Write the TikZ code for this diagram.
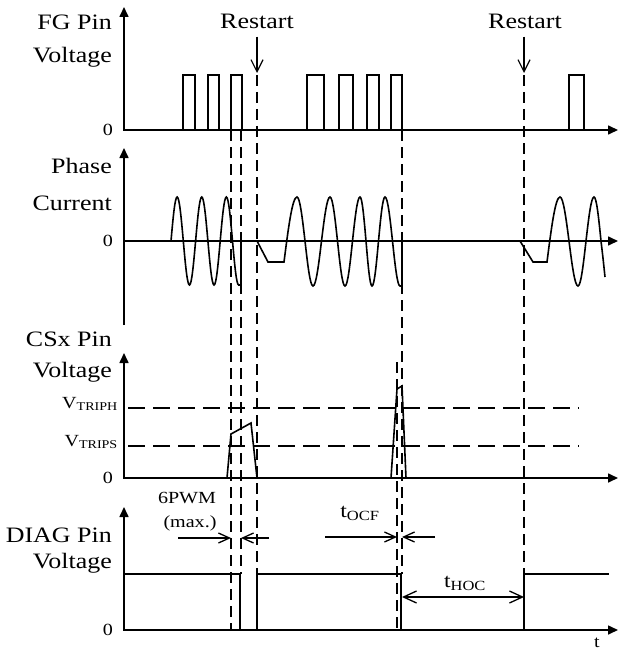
\documentclass[tikz,border=0pt]{standalone}
\usepackage{fontspec}
\setmainfont{Liberation Serif}[FakeStretch=1.18]
\usetikzlibrary{arrows.meta}

\begin{document}
\begin{tikzpicture}[
    x=1pt, y=-1pt,
    axisline/.style={line width=1.6pt, {Triangle[width=9pt,length=10pt]}-{Triangle[width=9pt,length=10pt]}},
    axisend/.style={line width=1.6pt, -{Triangle[width=9pt,length=10pt]}},
    signal/.style={line width=1.6pt},
    guide/.style={line width=1.5pt, dash pattern=on 11pt off 6pt},
    tripline/.style={line width=1.4pt, dash pattern=on 17pt off 8pt},
    marker/.style={line width=1.2pt, -{Straight Barb[width=12pt,length=12pt]}},
    measure/.style={line width=1.3pt, -{Straight Barb[width=10pt,length=11pt]}},
    sigtitle/.style={font=\fontsize{22}{24}\selectfont, anchor=base east, inner sep=0pt},
    lbl/.style={font=\fontsize{17}{19}\selectfont, inner sep=0pt},
    timing/.style={font=\fontsize{20}{22}\selectfont, inner sep=0pt}
]
\useasboundingbox (0,0) rectangle (621,650);

% Signal names
\node[sigtitle] (fg1) at (112,30) {FG Pin};
\node[sigtitle] (fg2) at (112,63) {Voltage};
\node[sigtitle] (ph1) at (112,173) {Phase};
\node[sigtitle] (ph2) at (112,210) {Current};
\node[sigtitle] (cs1) at (112,346) {CSx Pin};
\node[sigtitle] (cs2) at (112,377) {Voltage};
\node[sigtitle] (dg1) at (112,542) {DIAG Pin};
\node[sigtitle] (dg2) at (112,568) {Voltage};

% Zero levels and thresholds
\node[lbl, anchor=east] (z1) at (113,130) {0};
\node[lbl, anchor=east] (z2) at (113,241) {0};
\node[lbl, anchor=east] (z3) at (113,478) {0};
\node[lbl, anchor=east] (z4) at (113,630) {0};
\node[lbl, anchor=base east] (vtriph) at (118,408) {V\textsubscript{TRIPH}};
\node[lbl, anchor=base east] (vtrips) at (118,446) {V\textsubscript{TRIPS}};

% Axes
\draw[axisline] (124,7) -- (124,130) -- (618,130);
\draw[axisend] (124,325) -- (124,148);
\draw[axisend] (124,241) -- (618,241);
\draw[axisline] (124,353) -- (124,478) -- (618,478);
\draw[axisline] (124,507) -- (124,630) -- (618,630);

% FG pulses
\foreach \a/\b in {183/195, 208/219, 231/242, 307/324, 339/353, 367/379, 391/402, 569/584}
    \draw[signal] (\a,130) |- (\b,75) -- (\b,130);

% Phase current
\draw[signal] (171,241) \foreach \k in {1,2} {sin ++(6.15,-44) cos ++(6.15,44) sin ++(6.15,44) cos ++(6.15,-44)}
    sin ++(6.15,-44) cos ++(6.15,44) sin ++(6.15,44) -- (241,285) -- (241,241);
\draw[signal] (257,241) -- (268,262) -- (284,262) sin (297,197) cos (305,241) sin (313,286)
    cos (321.5,241) sin (330,197) cos (337.5,241) sin (345,286) cos (352.5,241) sin (360,197)
    cos (366,241) sin (372,286) cos (378.5,241) sin (385,197) cos (392.5,241) sin (400,286)
    -- (402,286) -- (402,241);
\draw[signal] (520,241) -- (533,262) -- (547,262) sin (560,197) cos (569,241) sin (578,286)
    cos (586,241) sin (594,197) cos (601,241) .. controls (603,258) .. (605,277);

% CSx spikes
\draw[signal] (227,478) -- (231,434) -- (251,423) -- (257,478);
\draw[signal] (391,478) -- (397,389) -- (402,386) -- (406,478);
\draw[tripline] (128,408) -- (579,408);
\draw[tripline] (128,446) -- (579,446);

% DIAG
\draw[signal] (124,574) -- (240,574) -- (240,630) -- (257,630) -- (257,574) -- (401,574)
    -- (401,630) -- (524,630) -- (524,574) -- (609,574);

% Restart markers
\node[font=\fontsize{22}{24}\selectfont, inner sep=0pt] (rs1) at (257,21) {Restart};
\node[font=\fontsize{22}{24}\selectfont, inner sep=0pt] (rs2) at (525,21) {Restart};
\coordinate (rs1tip) at (257,73);
\coordinate (rs2tip) at (524,73);
\draw[marker] ([yshift=-8pt]rs1.south) -- (rs1tip);
\draw[marker] ([xshift=-1pt,yshift=-8pt]rs2.south) -- (rs2tip);

% Guide lines
\foreach \x/\ya/\yb in {231/130/630, 241/130/574, 257/75/574, 397/362/630, 402/130/574, 524/75/574}
    \draw[guide] (\x,\ya) -- (\x,\yb);

% Time intervals
\node[lbl] (pwm) at (187,498) {6PWM};
\node[lbl] (pwmmax) at (190,523) {(max.)};
\draw[measure] (178,538) -- (231,538);
\draw[measure] (269,538) -- (241,538);
\node[timing] (tocf) at (360,513) {t\textsubscript{OCF}};
\draw[measure] (325,537) -- (397,537);
\draw[measure] (435,537) -- (402,537);
\node[timing] (thoc) at (465,583) {t\textsubscript{HOC}};
\draw[measure, {Straight Barb[width=12pt,length=13pt]}-{Straight Barb[width=12pt,length=13pt]}] (402,597) -- (524,597);
\node[lbl] (tlabel) at (597,643) {t};

\end{tikzpicture}
\end{document}
